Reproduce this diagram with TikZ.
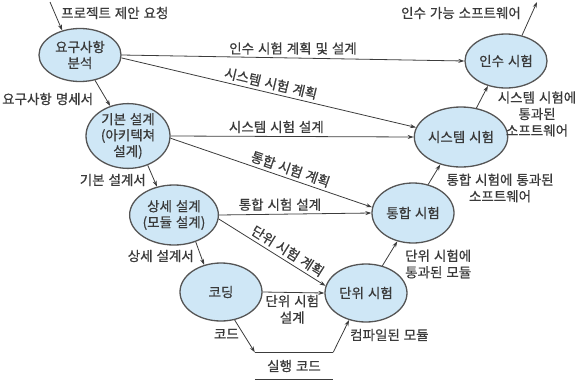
\documentclass[tikz,border=0pt]{standalone}
\usepackage{fontspec}
\setmainfont[WordSpace=1.3,FakeBold=0.6]{Noto Sans CJK KR}
\usetikzlibrary{shapes.geometric,arrows.meta}
\definecolor{ellfill}{HTML}{CFE7F6}
\definecolor{ellline}{HTML}{555555}
\definecolor{txt}{HTML}{3A3A3A}
\definecolor{conn}{HTML}{3C3C3C}
\tikzset{
  proc/.style={ellipse, draw=ellline, line width=1.3pt, fill=ellfill, inner sep=0pt,
    text=txt, align=center, font=\fontsize{13.5}{16}\selectfont},
  lbl/.style={text=txt, align=center, font=\fontsize{13.5}{16.5}\selectfont, inner sep=2pt},
  arr/.style={draw=conn, line width=0.8pt, -{Stealth[length=6pt,width=4pt]}},
  bar/.style={draw=conn, line width=1pt}
}
\begin{document}
\begin{tikzpicture}[x=1pt,y=-1pt]
\useasboundingbox (0,0) rectangle (580,383);
% processes
\node[proc, minimum width=82pt, minimum height=53pt] (req) at (80,55) {요구사항\\분석};
\node[proc, minimum width=84pt, minimum height=60pt] (bd) at (128,136) {기본 설계\\(아키텍쳐\\설계)};
\node[proc, minimum width=82pt, minimum height=60pt] (dd) at (174,215) {상세 설계\\(모듈 설계)};
\node[proc, minimum width=82pt, minimum height=58pt] (cod) at (221,292) {코딩};
\node[proc, minimum width=82pt, minimum height=58pt] (ut) at (366,293) {단위 시험};
\node[proc, minimum width=82pt, minimum height=60pt] (it) at (413,213) {통합 시험};
\node[proc, minimum width=86pt, minimum height=60pt] (st) at (461,137) {시스템 시험};
\node[proc, minimum width=82pt, minimum height=54pt] (at) at (506,61) {인수 시험};
% executable code store
\node[lbl, minimum width=78pt, minimum height=27pt] (exec) at (294,366) {실행 코드};
\draw[bar] (exec.north west) -- (exec.north east);
\draw[bar] (exec.south west) -- (exec.south east);
% free ends
\coordinate (inp) at (50,2);
\coordinate (outp) at (537,2);
% connectors
\draw[arr] (inp) -- (req.126);
\draw[arr] (at.58) -- (outp);
\draw[arr] (req) -- (bd);
\draw[arr] (bd.-56) -- (dd.121);
\draw[arr] (dd.-51) -- (cod.122);
\draw[arr] (cod.-64) -- (exec.north west);
\draw[arr] (exec.north east) -- (ut.238);
\draw[arr] (ut.59) -- (it.241);
\draw[arr] (it.62) -- (st.233);
\draw[arr] (st.62) -- (at.234);
\draw[arr] (req.east) -- node[lbl, above=1pt, pos=0.5] (l1) {인수 시험 계획 및 설계} (at.west);
\draw[arr] (req.-4) -- node[lbl, above=1pt, sloped, pos=0.5] (l2) {시스템 시험 계획} (st.168);
\draw[arr] (bd.east) -- node[lbl, above=1pt, pos=0.435] (l3) {시스템 시험 설계} (st.west);
\draw[arr] (bd.-3) -- node[lbl, above=1pt, sloped, pos=0.58] (l4) {통합 시험 계획} (it.172);
\draw[arr] (dd.east) -- node[lbl, above=1pt, pos=0.4] (l5) {통합 시험 설계} (it.west);
\draw[arr] (dd.-5) -- node[lbl, above=1pt, sloped, pos=0.6] (l6) {단위 시험 계획} (ut.170);
\draw[arr] (cod.east) -- node[lbl, below=0pt, pos=0.48] (l7) {단위 시험\\설계} (ut.west);
% flow labels
\node[lbl, anchor=west] (l8) at (59,13) {프로젝트 제안 요청};
\node[lbl, anchor=east] (l9) at (523,13) {인수 가능 소프트웨어};
\node[lbl, anchor=west] (l10) at (0,99) {요구사항 명세서};
\node[lbl, anchor=east] (l11) at (148,180) {기본 설계서};
\node[lbl, anchor=east] (l12) at (196,256) {상세 설계서};
\node[lbl, anchor=east] (l13) at (241,334) {코드};
\node[lbl, anchor=west] (l14) at (348,335) {컴파일된 모듈};
\node[lbl, anchor=west, align=left] (l15) at (403,264) {단위 시험에\\통과된 모듈};
\node[lbl] (l16) at (500,188) {통합 시험에 통과된\\소프트웨어};
\node[lbl] (l17) at (537,114) {시스템 시험에\\통과된\\소프트웨어};
\end{tikzpicture}
\end{document}
